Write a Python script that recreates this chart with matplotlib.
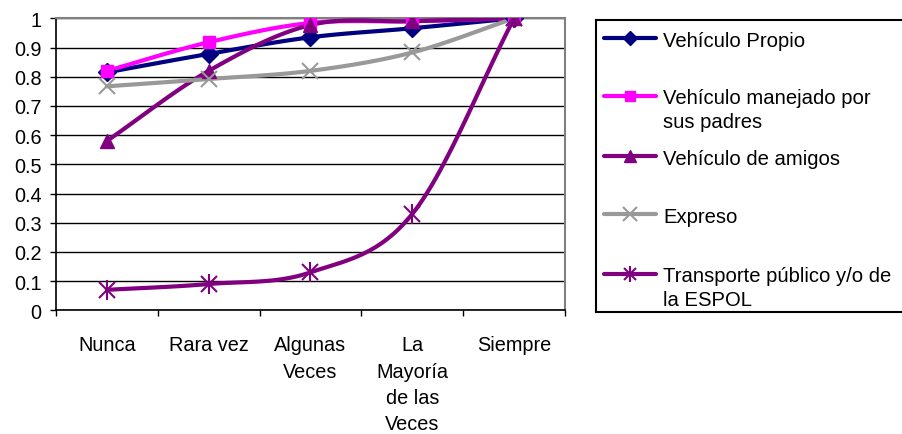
import numpy as np
import matplotlib
matplotlib.use("Agg")
import matplotlib.pyplot as plt
from matplotlib.lines import Line2D

plt.rcParams['font.family'] = ['Liberation Sans', 'DejaVu Sans']

categories = ["Nunca", "Rara vez", "Algunas\nVeces", "La\nMayoría\nde las\nVeces", "Siempre"]
vehiculo_propio = [0.815, 0.878, 0.935, 0.966, 1.0]
vehiculo_padres = [0.82, 0.918, 0.984, 0.99, 1.0]
vehiculo_amigos = [0.58, 0.82, 0.977, 0.99, 1.0]
expreso = [0.767, 0.792, 0.82, 0.883, 1.0]
transporte = [0.07, 0.09, 0.13, 0.33, 1.0]
ytick_labels = ["0", "0.1", "0.2", "0.3", "0.4", "0.5", "0.6", "0.7", "0.8", "0.9", "1"]

series = [
    ("Vehículo Propio", vehiculo_propio, "#000080", "D", 9),
    ("Vehículo manejado por\nsus padres", vehiculo_padres, "#FF00FF", "s", 9),
    ("Vehículo de amigos", vehiculo_amigos, "#800080", "^", 10),
    ("Expreso", expreso, "#999999", "x", 12),
    ("Transporte público y/o de\nla ESPOL", transporte, "#800080", "*", 0),
]

FS = 14.3
FS_LEG = 14.6
W, H = 903, 435
fig = plt.figure(figsize=(W / 100, H / 100), dpi=100)
ax = fig.add_axes([56 / W, 1 - 311.3 / H, (565 - 56) / W, (311.3 - 19.3) / H])


def smooth(x, y, n=30):
    x = np.asarray(x, float)
    y = np.asarray(y, float)
    px = np.concatenate([[2 * x[0] - x[1]], x, [2 * x[-1] - x[-2]]])
    py = np.concatenate([[2 * y[0] - y[1]], y, [2 * y[-1] - y[-2]]])
    xs, ys = [], []
    for i in range(1, len(px) - 2):
        t = np.linspace(0, 1, n, endpoint=(i == len(px) - 3))
        p0, p1, p2, p3 = [np.array([px[j], py[j]]) for j in (i - 1, i, i + 1, i + 2)]
        c1 = p1 + (p2 - p0) / 6
        c2 = p2 - (p3 - p1) / 6
        pts = ((1 - t) ** 3)[:, None] * p1 + (3 * (1 - t) ** 2 * t)[:, None] * c1 \
            + (3 * (1 - t) * t ** 2)[:, None] * c2 + (t ** 3)[:, None] * p2
        xs.append(pts[:, 0])
        ys.append(pts[:, 1])
    return np.concatenate(xs), np.concatenate(ys)


def draw_marker(a, xs, ys, color, marker, ms, scale=1.0):
    if marker == "*":
        a.plot(xs, ys, linestyle='none', marker='x', ms=11 * scale, mew=1.5, color=color, zorder=4)
        a.plot(xs, ys, linestyle='none', marker='|', ms=14 * scale, mew=1.5, color=color, zorder=4)
    elif marker == "x":
        a.plot(xs, ys, linestyle='none', marker='x', ms=ms * scale, mew=1.5, color=color, zorder=4)
    else:
        a.plot(xs, ys, linestyle='none', marker=marker, ms=ms * scale, color=color,
               markeredgecolor=color, zorder=4)


xpos = np.arange(len(categories))
for label, vals, color, marker, ms in series:
    sx, sy = smooth(xpos, vals)
    ax.plot(sx, sy, color=color, lw=3, solid_capstyle='round', zorder=3)
    draw_marker(ax, xpos, vals, color, marker, ms)

ax.set_xlim(-0.5, len(categories) - 0.5)
ax.set_ylim(0, 1)
ax.set_yticks(np.arange(0, 1.01, 0.1))
ax.set_yticklabels(ytick_labels)
ax.yaxis.grid(True, color='black', lw=1)
ax.set_axisbelow(True)
ax.set_xticks(np.arange(-0.5, len(categories), 1.0))
ax.set_xticklabels([])
ax.set_xticks(xpos, minor=True)
xlabels = ax.set_xticklabels(categories, minor=True, fontsize=FS, va='top', linespacing=1.4)
ax.tick_params(axis='x', which='minor', length=0, pad=18)
ax.tick_params(axis='x', which='major', length=4.5, width=1, direction='out', color='black')
ax.tick_params(axis='y', length=4.5, width=1, direction='out', labelsize=FS, pad=6)
for s in ('top', 'right'):
    ax.spines[s].set_color('#808080')
    ax.spines[s].set_linewidth(1.5)
for s in ('left', 'bottom'):
    ax.spines[s].set_color('black')
    ax.spines[s].set_linewidth(1.2)

# tune line spacing of the tall category label so its block spans ~98 px
renderer = fig.canvas.get_renderer()
lo, hi = 0.8, 2.5
tall = xlabels[3]
for _ in range(25):
    mid = (lo + hi) / 2
    tall.set_linespacing(mid)
    hgt = tall.get_window_extent(renderer).height
    if hgt > 98:
        hi = mid
    else:
        lo = mid
for t in xlabels:
    t.set_linespacing((lo + hi) / 2)

# legend
lax = fig.add_axes([596 / W, 1 - 313 / H, (W - 596 + 10) / W, (313 - 21) / H])
lax.set_xlim(596, W + 10)
lax.set_ylim(313, 21)
lax.set_xticks([])
lax.set_yticks([])
for s in lax.spines.values():
    s.set_color('black')
    s.set_linewidth(1.5)
ypos = [39, 97, 157, 215, 275]
step = 23.3
for (label, vals, color, marker, ms), yy in zip(series, ypos):
    lax.add_line(Line2D([604, 656], [yy, yy], color=color, lw=3, solid_capstyle='round'))
    draw_marker(lax, [630], [yy], color, marker, ms, scale=0.8)
    nl = label.count("\n")
    lax.text(663, yy + 8 + nl * step, label, fontsize=FS_LEG, va='baseline', ha='left',
             linespacing=1.35)

fig.savefig("out.png", dpi=100)
